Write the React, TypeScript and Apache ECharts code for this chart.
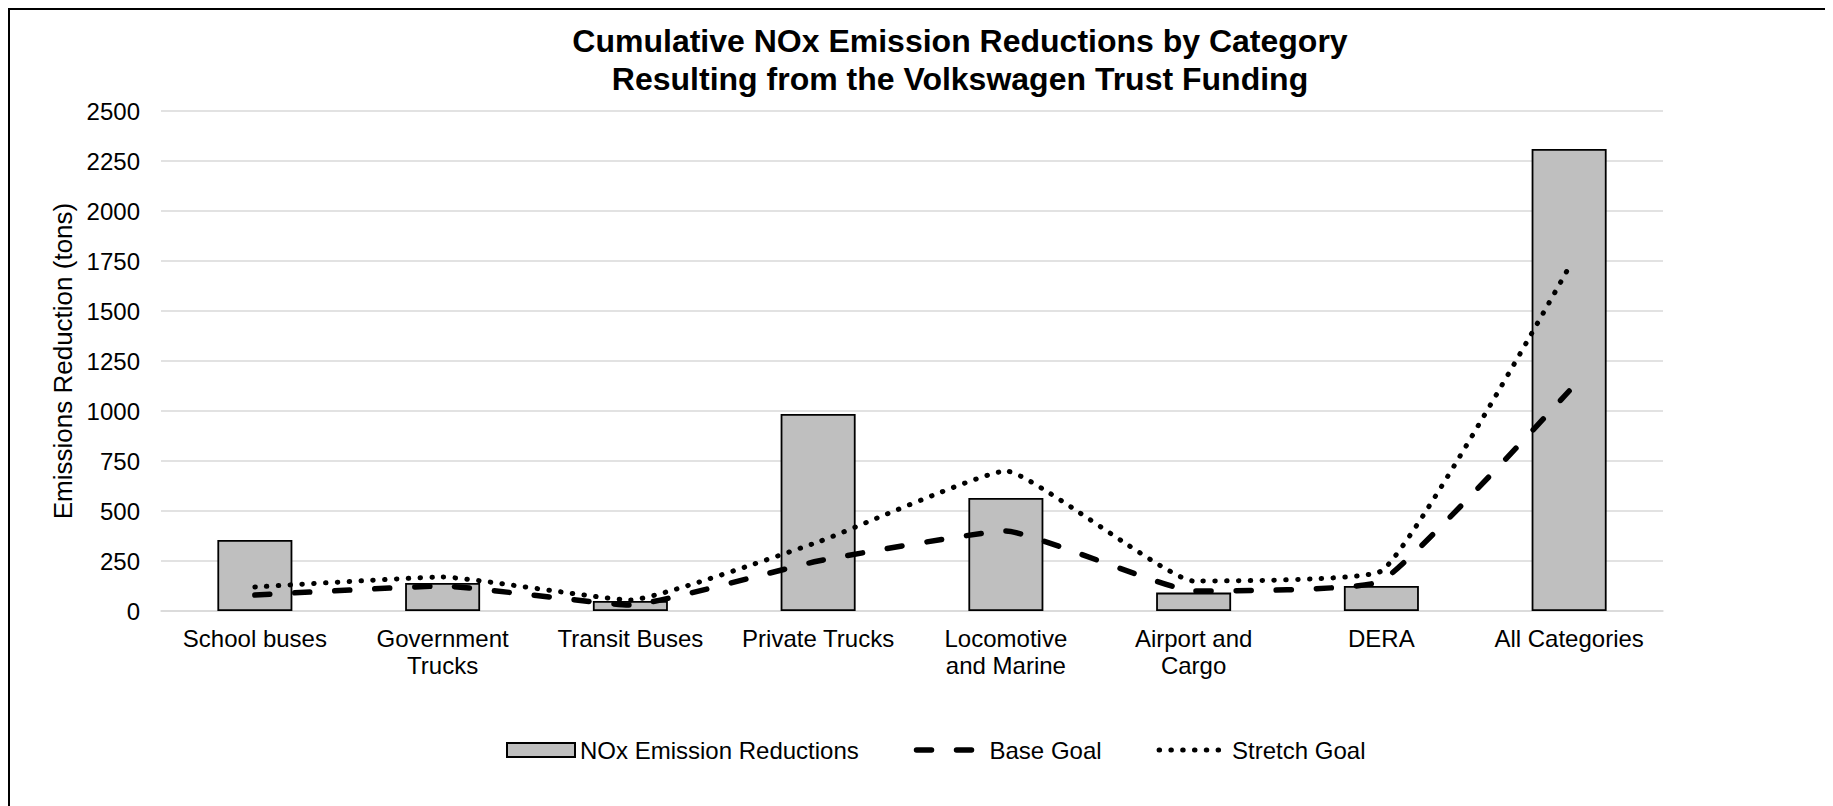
import React, { useEffect, useRef } from "react";
import * as echarts from "echarts";

const categories = [
  "School buses",
  "Government\nTrucks",
  "Transit Buses",
  "Private Trucks",
  "Locomotive\nand Marine",
  "Airport and\nCargo",
  "DERA",
  "All Categories",
];
const reductions = [355, 140, 50, 985, 565, 92, 125, 2310];
const baseGoal = [80, 125, 30, 250, 400, 100, 150, 1100];
const stretchGoal = [120, 170, 55, 345, 700, 150, 200, 1720];
const yTicks = { min: 0, max: 2500, interval: 250 };

const FONT = "'Liberation Sans', Arial, sans-serif";
const BASE_DASH = [15, 25];
const STRETCH_DASH = [0.5, 11.3];

export default function App() {
  const ref = useRef<HTMLDivElement>(null);
  useEffect(() => {
    if (!ref.current) return;
    const chart = echarts.init(ref.current, null, { renderer: "svg" });
    chart.setOption({
      animation: false,
      backgroundColor: "#fff",
      textStyle: { fontFamily: FONT, color: "#000" },
      title: {
        text: "Cumulative NOx Emission Reductions by Category\nResulting from the Volkswagen Trust Funding",
        left: 952,
        top: 14,
        textAlign: "center",
        padding: 0,
        textStyle: {
          fontFamily: FONT,
          fontSize: 32,
          fontWeight: "bold",
          lineHeight: 38,
          color: "#000",
        },
      },
      graphic: [
        { type: "line", shape: { x1: 0, y1: 1, x2: 1825, y2: 1 }, style: { stroke: "#000", lineWidth: 2 } },
        { type: "line", shape: { x1: 1, y1: 0, x2: 1, y2: 798 }, style: { stroke: "#000", lineWidth: 2 } },
      ],
      legend: {
        left: 498,
        top: 730,
        padding: 0,
        itemWidth: 68,
        itemHeight: 14,
        itemGap: 55,
        textStyle: { fontFamily: FONT, fontSize: 24, color: "#000" },
        data: [
          { name: "NOx Emission Reductions", icon: "rect" },
          {
            name: "Base Goal",
            itemStyle: { opacity: 0 },
            lineStyle: { width: 5.5, type: BASE_DASH, cap: "round", color: "#000" },
          },
          {
            name: "Stretch Goal",
            itemStyle: { opacity: 0 },
            lineStyle: { width: 5, type: STRETCH_DASH, cap: "round", color: "#000" },
          },
        ],
      },
      grid: { left: 153, top: 103, width: 1502, height: 500, containLabel: false },
      xAxis: {
        type: "category",
        data: categories,
        boundaryGap: true,
        axisLine: { show: true, lineStyle: { color: "#d9d9d9", width: 1.5 } },
        axisTick: { show: false },
        axisLabel: {
          interval: 0,
          fontFamily: FONT,
          fontSize: 24,
          lineHeight: 27,
          color: "#000",
          margin: 14,
        },
      },
      yAxis: {
        type: "value",
        min: yTicks.min,
        max: yTicks.max,
        interval: yTicks.interval,
        name: "Emissions Reduction (tons)",
        nameLocation: "middle",
        nameRotate: 90,
        nameGap: 66,
        nameTextStyle: { fontFamily: FONT, fontSize: 26, color: "#000" },
        axisLine: { show: false },
        axisTick: { show: false },
        axisLabel: {
          fontFamily: FONT,
          fontSize: 24,
          color: "#000",
          margin: 21,
          formatter: (v: number) => String(v),
        },
        splitLine: { show: true, lineStyle: { color: "#d9d9d9", width: 1.5 } },
      },
      series: [
        {
          name: "NOx Emission Reductions",
          type: "bar",
          data: reductions,
          barWidth: 75,
          itemStyle: { color: "#bfbfbf", borderColor: "#000", borderWidth: 1.8 },
          z: 2,
        },
        {
          name: "Base Goal",
          type: "line",
          data: baseGoal,
          smooth: 0.12,
          showSymbol: false,
          symbol: "none",
          lineStyle: { color: "#000", width: 5.5, type: BASE_DASH, cap: "round" },
          itemStyle: { color: "#000" },
          z: 3,
        },
        {
          name: "Stretch Goal",
          type: "line",
          data: stretchGoal,
          smooth: 0.12,
          showSymbol: false,
          symbol: "none",
          lineStyle: { color: "#000", width: 5, type: STRETCH_DASH, cap: "round" },
          itemStyle: { color: "#000" },
          z: 3,
        },
      ],
    });
    return () => chart.dispose();
  }, []);
  return <div ref={ref} style={{ width: 1825, height: 798 }} />;
}
